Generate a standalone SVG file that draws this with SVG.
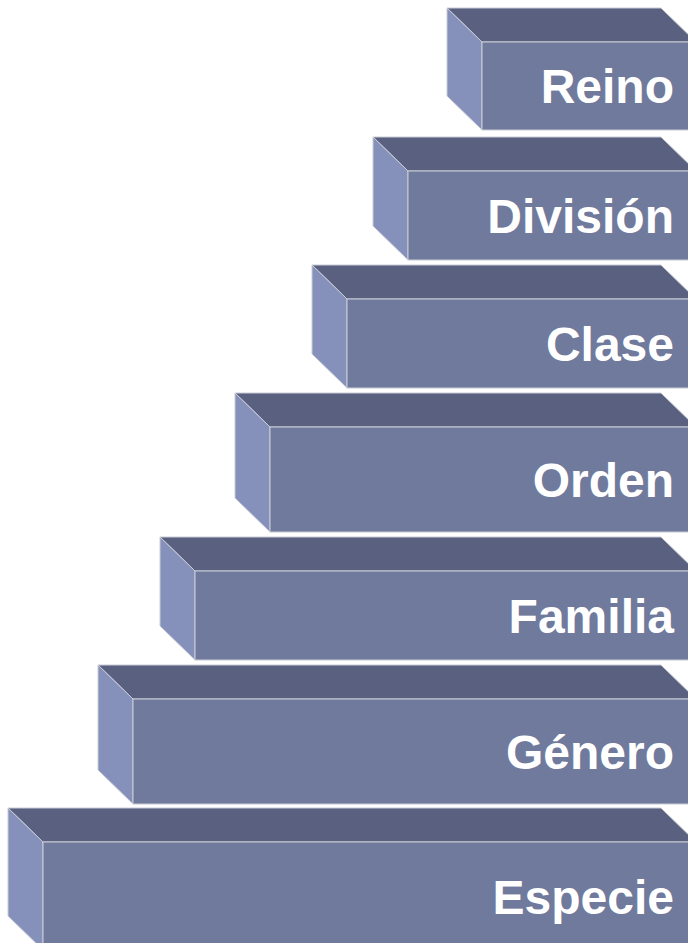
<svg xmlns="http://www.w3.org/2000/svg" width="688" height="943" viewBox="0 0 688 943">
<style>
.top{fill:#5a6180;stroke:#c9ccd6;stroke-width:1}
.left{fill:#8590bb;stroke:#c9ccd6;stroke-width:1}
.front{fill:#707a9c;stroke:#c9ccd6;stroke-width:1}
.lbl{font-family:"Liberation Sans",Arial,sans-serif;font-weight:bold;font-size:48px;fill:#ffffff;text-anchor:end}
</style>
<rect width="688" height="943" fill="#ffffff"/>
<g id="reino">
<polygon class="top" points="447,8 661,8 696,42 482,42"/>
<polygon class="left" points="447,8 482,42 482,130 447,96"/>
<rect class="front" x="482" y="42" width="214" height="88"/>
<text class="lbl" x="674" y="103">Reino</text>
</g>
<g id="division">
<polygon class="top" points="373,137 661,137 696,171 408,171"/>
<polygon class="left" points="373,137 408,171 408,260 373,226"/>
<rect class="front" x="408" y="171" width="288" height="89"/>
<text class="lbl" x="674" y="233">División</text>
</g>
<g id="clase">
<polygon class="top" points="312,265 661,265 696,299 347,299"/>
<polygon class="left" points="312,265 347,299 347,388 312,354"/>
<rect class="front" x="347" y="299" width="349" height="89"/>
<text class="lbl" x="674" y="361">Clase</text>
</g>
<g id="orden">
<polygon class="top" points="235,393 661,393 696,427 270,427"/>
<polygon class="left" points="235,393 270,427 270,532 235,498"/>
<rect class="front" x="270" y="427" width="426" height="105"/>
<text class="lbl" x="674" y="497">Orden</text>
</g>
<g id="familia">
<polygon class="top" points="160,537 661,537 696,571 195,571"/>
<polygon class="left" points="160,537 195,571 195,660 160,626"/>
<rect class="front" x="195" y="571" width="501" height="89"/>
<text class="lbl" x="674" y="633">Familia</text>
</g>
<g id="genero">
<polygon class="top" points="98,665 661,665 696,699 133,699"/>
<polygon class="left" points="98,665 133,699 133,804 98,770"/>
<rect class="front" x="133" y="699" width="563" height="105"/>
<text class="lbl" x="674" y="769">Género</text>
</g>
<g id="especie">
<polygon class="top" points="8,808 661,808 696,842 43,842"/>
<polygon class="left" points="8,808 43,842 43,950 8,916"/>
<rect class="front" x="43" y="842" width="653" height="108"/>
<text class="lbl" x="674" y="914">Especie</text>
</g>
<g id="connectors"/>
</svg>
